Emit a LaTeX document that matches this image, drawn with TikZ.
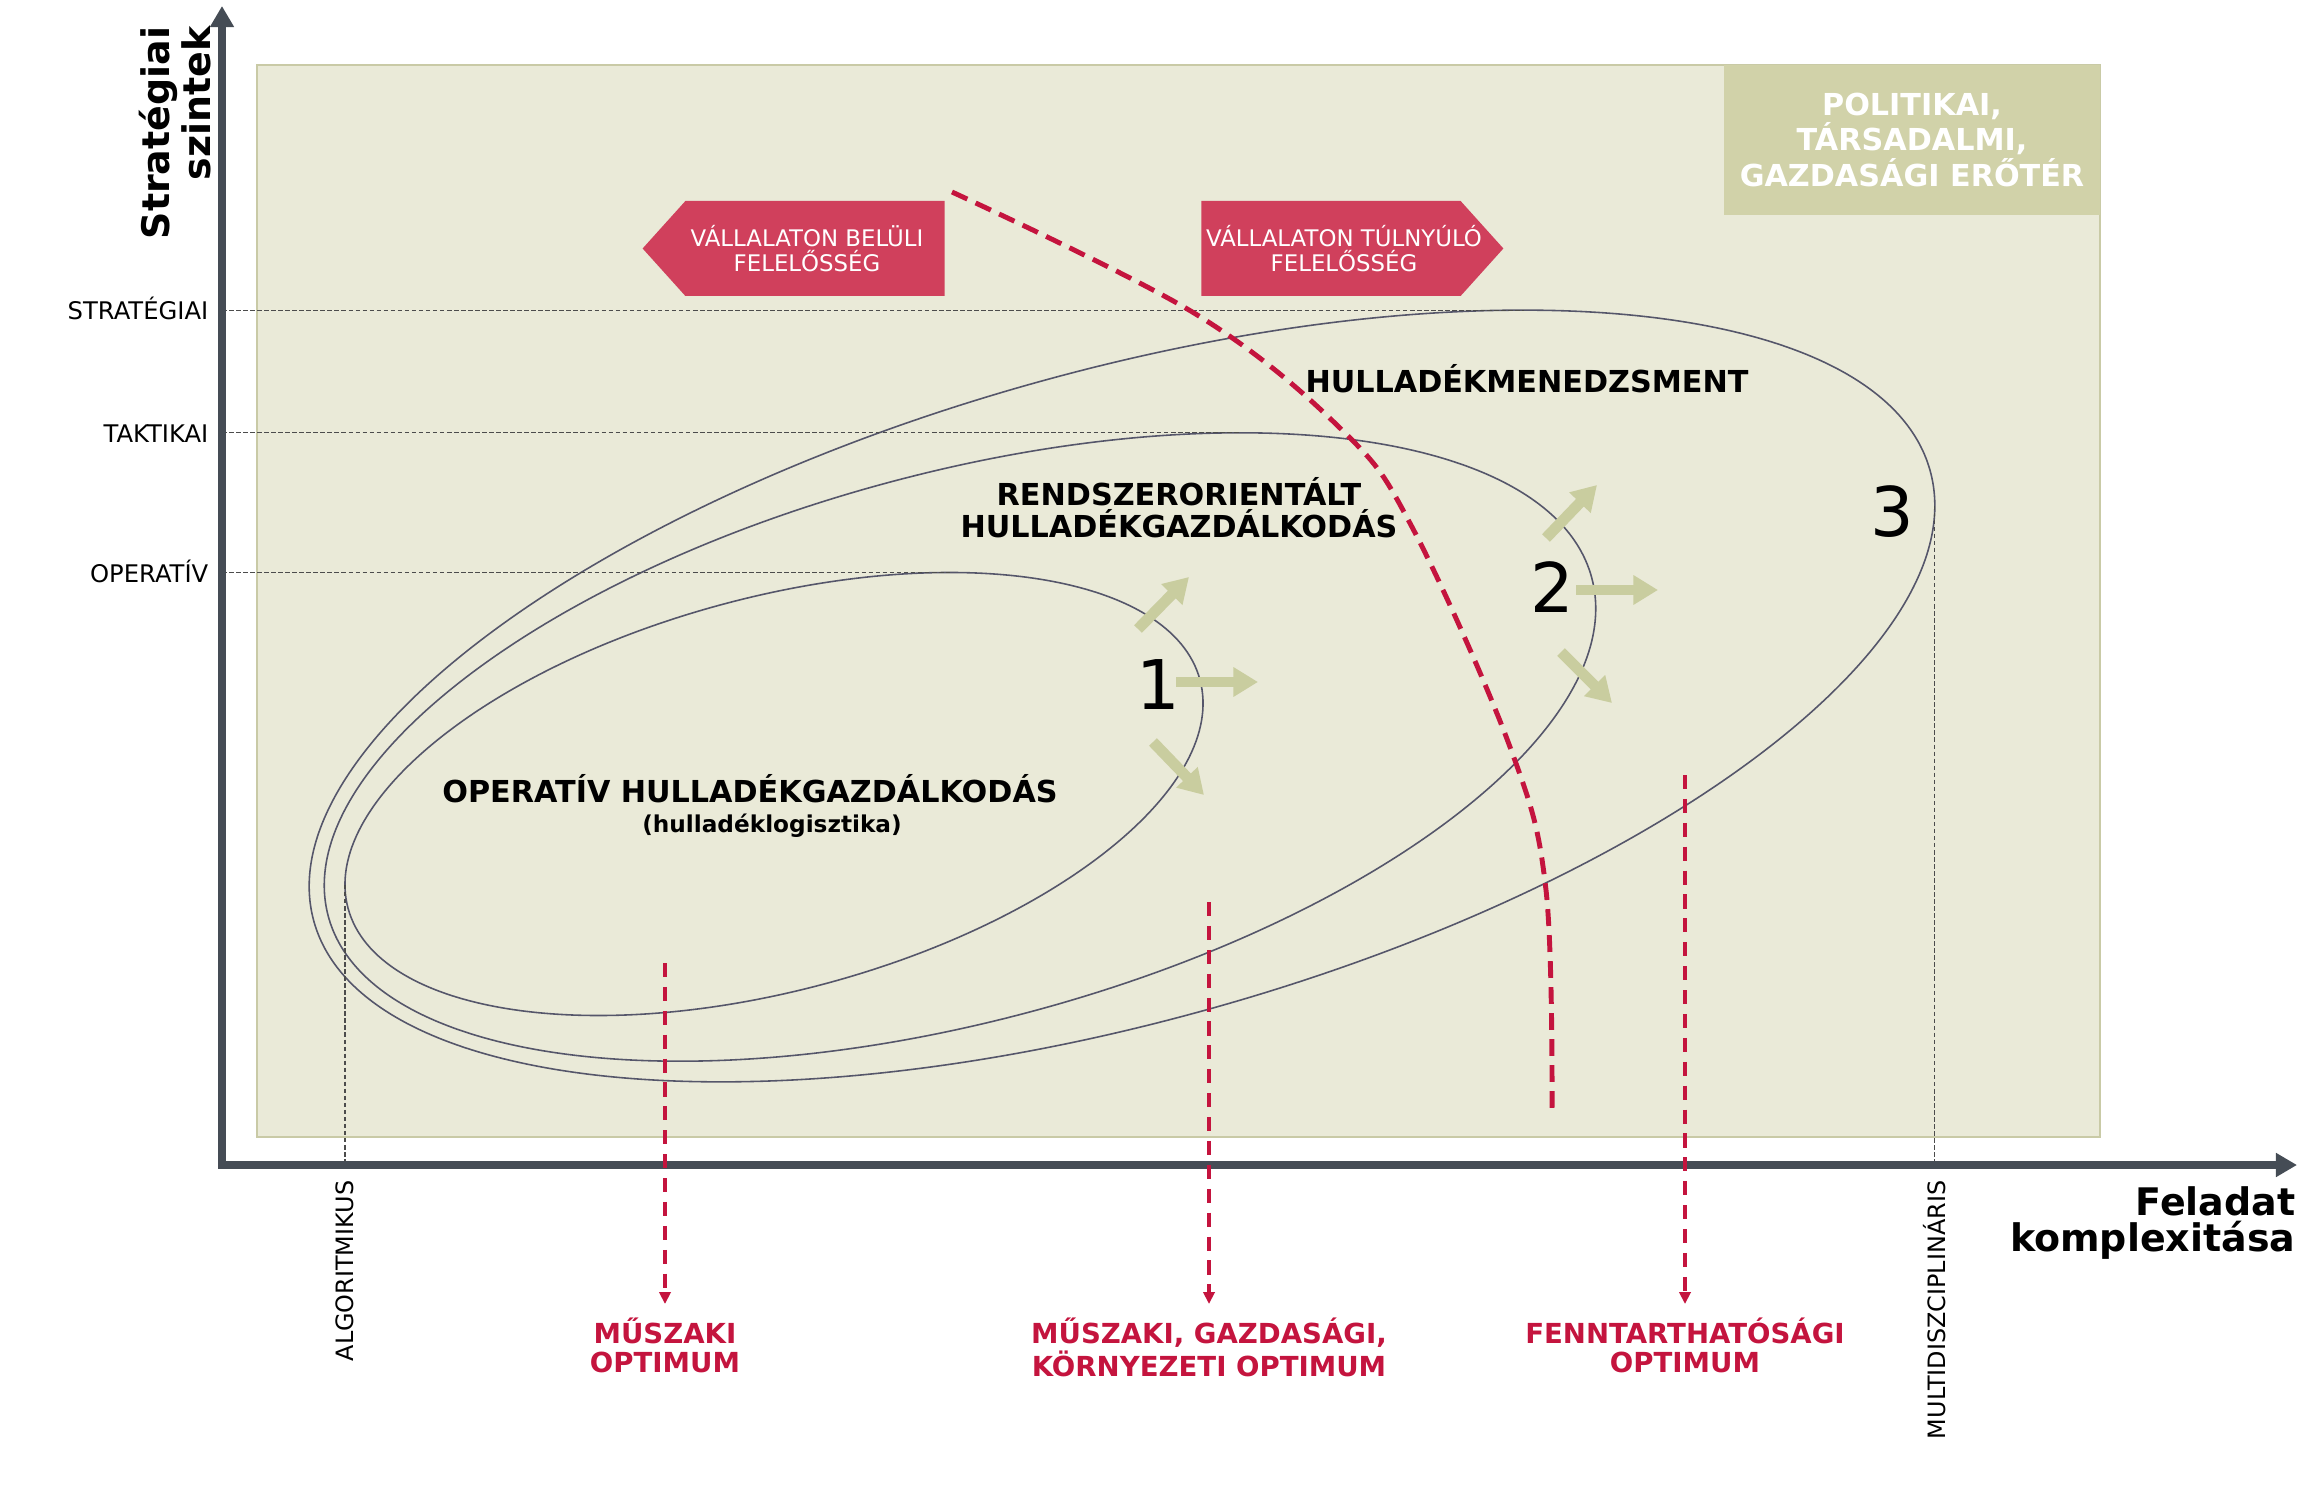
\documentclass[tikz,border=0pt]{standalone}
\usepackage{fontspec}
\setmainfont{DejaVu Sans}
\usetikzlibrary{arrows.meta, shapes.symbols, positioning}

\definecolor{fieldbg}{HTML}{EAEAD8}
\definecolor{fieldline}{HTML}{C9CAA6}
\definecolor{forcefill}{HTML}{D1D2A9}
\definecolor{signred}{HTML}{D0405C}
\definecolor{optred}{HTML}{C4143E}
\definecolor{axisgray}{HTML}{454C55}
\definecolor{ringgray}{HTML}{55566A}
\definecolor{pushgreen}{HTML}{C9CD9F}

\begin{document}
\begin{tikzpicture}[
    field/.style={fill=fieldbg, draw=fieldline, line width=0.4pt},
    forcebox/.style={
      fill=forcefill, text=white, align=center, minimum width=3.76cm,
      minimum height=1.5cm, inner sep=0pt, font=\fontsize{8.6}{9}\selectfont\bfseries
    },
    ring/.style={draw=ringgray, line width=0.45pt},
    guide/.style={draw=black!70, line width=0.3pt, dash pattern=on 1.3pt off 0.7pt},
    lvl/.style={font=\fontsize{6.9}{7}\selectfont, inner sep=0pt, anchor=mid east},
    ext/.style={font=\fontsize{6.8}{7}\selectfont, inner sep=0pt, rotate=90, anchor=east},
    axtitle/.style={font=\fontsize{10.8}{10.3}\selectfont\bfseries, inner sep=0pt, align=right},
    zone/.style={font=\fontsize{8.6}{9}\selectfont\bfseries, align=center, inner sep=0pt},
    num/.style={font=\fontsize{19.5}{20}\selectfont, inner sep=0pt},
    push/.style={draw=pushgreen, line width=3.1pt, -{Triangle[length=7pt, width=8pt]}},
    respsign/.style={
      signal, fill=signred, minimum width=3.02cm, minimum height=0.95cm,
      signal pointer angle=96, inner sep=0pt
    },
    signtext/.style={text=white, align=center, inner sep=0pt, font=\fontsize{6.5}{6.9}\selectfont},
    boundary/.style={draw=optred, line width=1.4pt, dash pattern=on 4.8pt off 2.6pt},
    axisline/.style={draw=axisgray, line width=2pt,
      {Triangle[length=6pt, width=6.5pt]}-{Triangle[length=6pt, width=6.5pt]}},
    optarr/.style={draw=optred, line width=1.1pt, dash pattern=on 4pt off 2.8pt,
      -{Triangle[length=3.4pt, width=3.2pt]}},
    optlbl/.style={text=optred, font=\fontsize{7.85}{8.3}\selectfont\bfseries,
      align=center, anchor=north, inner xsep=0pt, inner ysep=3.7pt}
  ]
    \useasboundingbox (-2.22,-3.44) rectangle (20.84,11.65);
    \coordinate (O) at (0,0);

    % --- háttér ---
    \path[field] (0.35,0.28) rectangle (18.78,11.00);
    \node[forcebox] (force) at (16.90,10.25) {POLITIKAI,\\TÁRSADALMI,\\GAZDASÁGI ERŐTÉR};

    % --- ellipszisek ---
    \begin{scope}[shift={(9.00,4.69)}, rotate=15.6]
      \draw[ring] (0,0) ellipse (8.39 and 3.25);
      \coordinate (e3t) at (54.2:8.39cm and 3.25cm);
      \coordinate (e3r) at (-6.2:8.39cm and 3.25cm);
    \end{scope}
    \begin{scope}[shift={(7.38,4.18)}, rotate=15]
      \draw[ring] (0,0) ellipse (6.54 and 2.74);
      \coordinate (e2t) at (57.4:6.54cm and 2.74cm);
    \end{scope}
    \begin{scope}[shift={(5.52,3.71)}, rotate=15]
      \draw[ring] (0,0) ellipse (4.41 and 1.965);
      \coordinate (e1t) at (59.0:4.41cm and 1.965cm);
      \coordinate (e1l) at (173.2:4.41cm and 1.965cm);
    \end{scope}

    % --- szintek ---
    \draw[guide] (e3t -| O) -- (e3t);
    \draw[guide] (e2t -| O) -- (e2t);
    \draw[guide] (e1t -| O) -- (e1t);
    \node[lvl] (lstr) at ([xshift=-1.3mm]e3t -| O) {STRATÉGIAI};
    \node[lvl] (ltak) at ([xshift=-1.3mm]e2t -| O) {TAKTIKAI};
    \node[lvl] (lop)  at ([xshift=-1.3mm]e1t -| O) {OPERATÍV};
    \draw[guide] (e1l) -- (e1l |- O);
    \draw[guide] (e3r) -- (e3r |- O);
    \node[ext] (lalg) at ([yshift=-1.5mm]e1l |- O) {ALGORITMIKUS};
    \node[ext] (lmul) at ([yshift=-1.5mm]e3r |- O) {MULTIDISZCIPLINÁRIS};

    % --- feliratok ---
    \node[zone, anchor=base] (zmgmt) at (13.05,7.72) {HULLADÉKMENEDZSMENT};
    \node[zone] (zsys) at (9.57,6.57) {RENDSZERORIENTÁLT\\HULLADÉKGAZDÁLKODÁS};
    \node[zone, anchor=base] (zop) at (5.28,3.63) {OPERATÍV HULLADÉKGAZDÁLKODÁS};
    \node[zone, anchor=base, font=\fontsize{6.6}{7}\selectfont\bfseries] (zlog) at (5.50,3.33) {(hulladéklogisztika)};

    % --- fokozatok ---
    \node[num] (n1) at (9.36,4.80) {1};
    \node[num] (n2) at (13.30,5.78) {2};
    \node[num] (n3) at (16.70,6.53) {3};
    \draw[push] ([shift={(0.18,0.03)}]n1.center)   -- ++(0.82,0);
    \draw[push] ([shift={(-0.20,0.56)}]n1.center)  -- ++(0.51,0.52);
    \draw[push] ([shift={(-0.05,-0.57)}]n1.center) -- ++(0.51,-0.53);
    \draw[push] ([shift={(0.24,-0.03)}]n2.center)  -- ++(0.82,0);
    \draw[push] ([shift={(-0.06,0.49)}]n2.center)  -- ++(0.51,0.53);
    \draw[push] ([shift={(0.09,-0.65)}]n2.center)  -- ++(0.51,-0.51);

    % --- felelősség ---
    \node[respsign, signal to=west] (inresp)  at (5.93,9.165)  {};
    \node[respsign, signal to=east] (outresp) at (11.09,9.165) {};
    \node[signtext] (inresptxt)  at (5.85,9.165)  {VÁLLALATON BELÜLI\\FELELŐSSÉG};
    \node[signtext] (outresptxt) at (11.22,9.165) {VÁLLALATON TÚLNYÚLÓ\\FELELŐSSÉG};
    \draw[boundary] plot[smooth, tension=0.6] coordinates
      {(7.30,9.73) (9.72,8.52) (11.20,7.35) (11.90,6.38) (12.88,4.18) (13.24,2.75) (13.30,0.52)};

    % --- tengelyek ---
    \coordinate (ytop) at (0,11.59);
    \coordinate (xend) at (20.75,0);
    \draw[axisline] (ytop) -- (O) -- (xend);
    \node[axtitle, rotate=90, anchor=east] (ytitle) at (-0.47,11.39) {Stratégiai\\szintek};
    \node[axtitle, anchor=north east] (xtitle) at (20.74,-0.21) {Feladat\\komplexitása};

    % --- optimumok ---
    \coordinate (oA) at (4.43,2.02);
    \coordinate (oB) at (9.87,2.63);
    \coordinate (oC) at (14.63,3.90);
    \node[optlbl] (lA) at (4.43,-1.39)  {MŰSZAKI\\OPTIMUM};
    \node[optlbl] (lB) at (9.87,-1.39)  {MŰSZAKI, GAZDASÁGI,\\KÖRNYEZETI OPTIMUM};
    \node[optlbl] (lC) at (14.63,-1.39) {FENNTARTHATÓSÁGI\\OPTIMUM};
    \draw[optarr] (oA) -- (lA);
    \draw[optarr] (oB) -- (lB);
    \draw[optarr] (oC) -- (lC);
\end{tikzpicture}
\end{document}
